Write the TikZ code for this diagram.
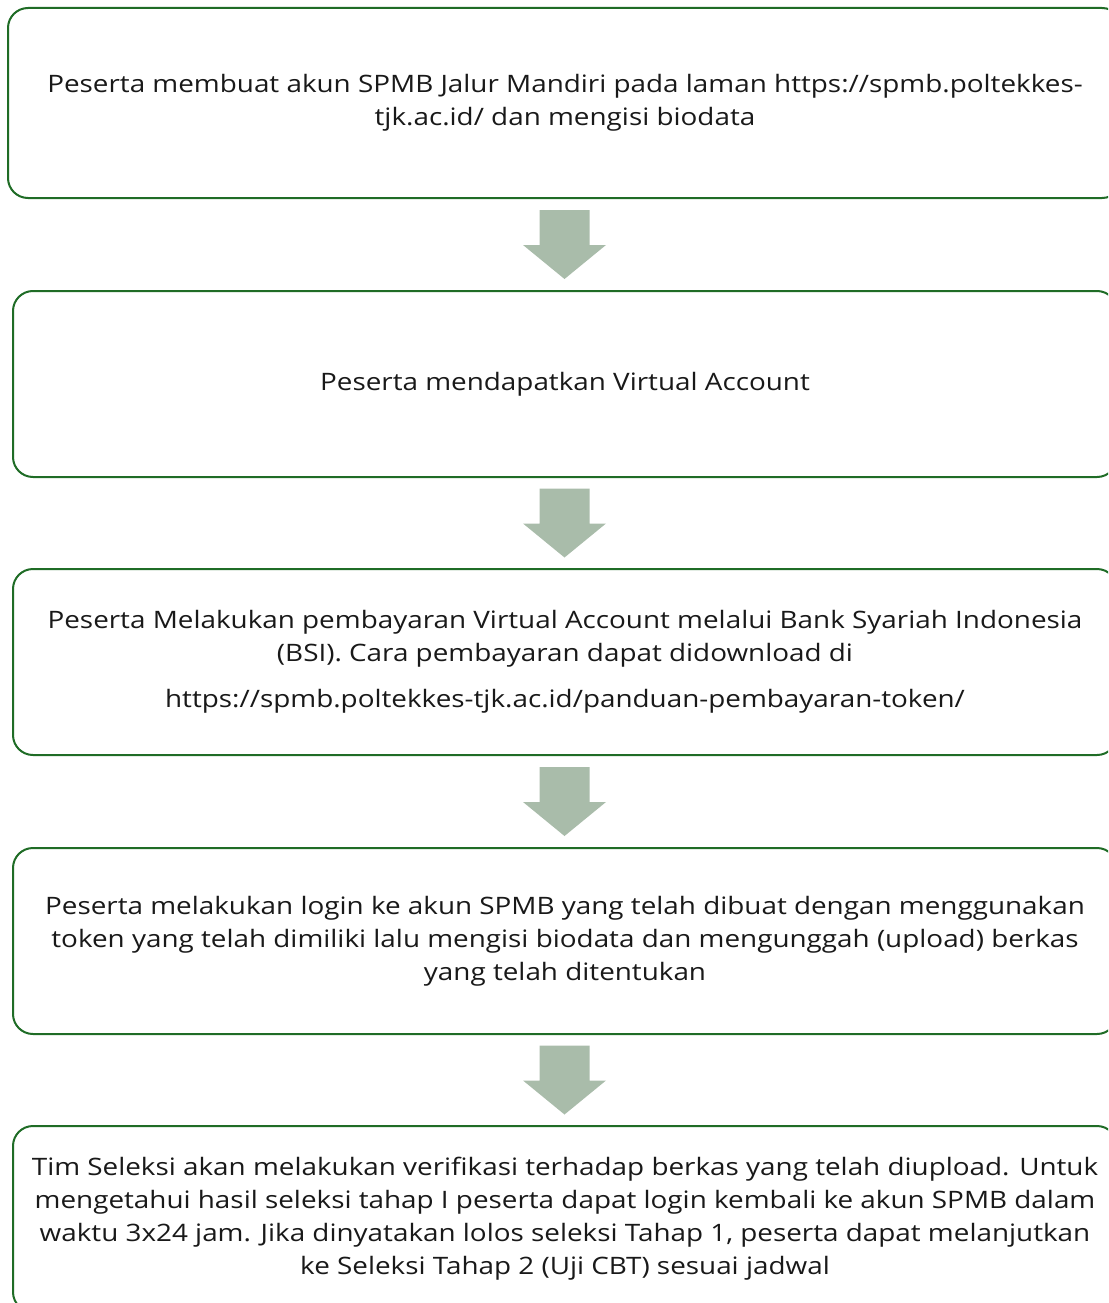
\documentclass[tikz,border=0pt]{standalone}
\usepackage{fontspec}
\setmainfont{Open Sans}[FakeStretch=1.16]
\usetikzlibrary{calc}
\definecolor{boxgreen}{RGB}{31,108,38}
\definecolor{arrowgray}{RGB}{169,188,170}
\tikzset{
  stepbox/.style={draw=boxgreen, line width=2pt, rounded corners=20pt, fill=white,
    align=center, inner sep=0pt, font=\fontsize{24}{33}\selectfont, text=black!90},
  blockarrow/.style={fill=arrowgray, draw=none}
}
\begin{document}
\begin{tikzpicture}[x=1pt,y=-1pt]
\useasboundingbox (0,0) rectangle (1108,1303);
\clip (0,0) rectangle (1108,1303);
\node[stepbox, minimum width=1114pt, minimum height=190pt] (b1) at (565,103)
  {Peserta membuat akun SPMB Jalur Mandiri pada laman https://spmb.poltekkes-\\tjk.ac.id/ dan mengisi biodata};
\node[stepbox, minimum width=1104pt, minimum height=186pt] (b2) at (565,384)
  {Peserta mendapatkan Virtual Account};
\node[stepbox, minimum width=1104pt, minimum height=186pt] (b3) at (565,662)
  {Peserta Melakukan pembayaran Virtual Account melalui Bank Syariah Indonesia\\(BSI). Cara pembayaran dapat didownload di\\[13pt]https://spmb.poltekkes-tjk.ac.id/panduan-pembayaran-token/};
\node[stepbox, minimum width=1104pt, minimum height=186pt] (b4) at (565,941)
  {Peserta melakukan login ke akun SPMB yang telah dibuat dengan menggunakan\\token yang telah dimiliki lalu mengisi biodata dan mengunggah (upload) berkas\\yang telah ditentukan};
\node[stepbox, minimum width=1104pt, minimum height=186pt] (b5) at (565,1219)
  {Tim Seleksi akan melakukan verifikasi terhadap berkas yang telah diupload. Untuk\\mengetahui hasil seleksi tahap I peserta dapat login kembali ke akun SPMB dalam\\waktu 3x24 jam. Jika dinyatakan lolos seleksi Tahap 1, peserta dapat melanjutkan\\ke Seleksi Tahap 2 (Uji CBT) sesuai jadwal};
\foreach \a/\b in {b1/b2,b2/b3,b3/b4,b4/b5}{
  \coordinate (m) at ($(\a.south)!0.5!(\b.north)+(-0.5,0)$);
  \fill[blockarrow] ($(m)+(-25,-34.5)$) -- ($(m)+(25,-34.5)$) -- ($(m)+(25,0.5)$)
    -- ($(m)+(41.5,0.5)$) -- ($(m)+(0,34.5)$) -- ($(m)+(-41.5,0.5)$)
    -- ($(m)+(-25,0.5)$) -- cycle;
}
\end{tikzpicture}
\end{document}
